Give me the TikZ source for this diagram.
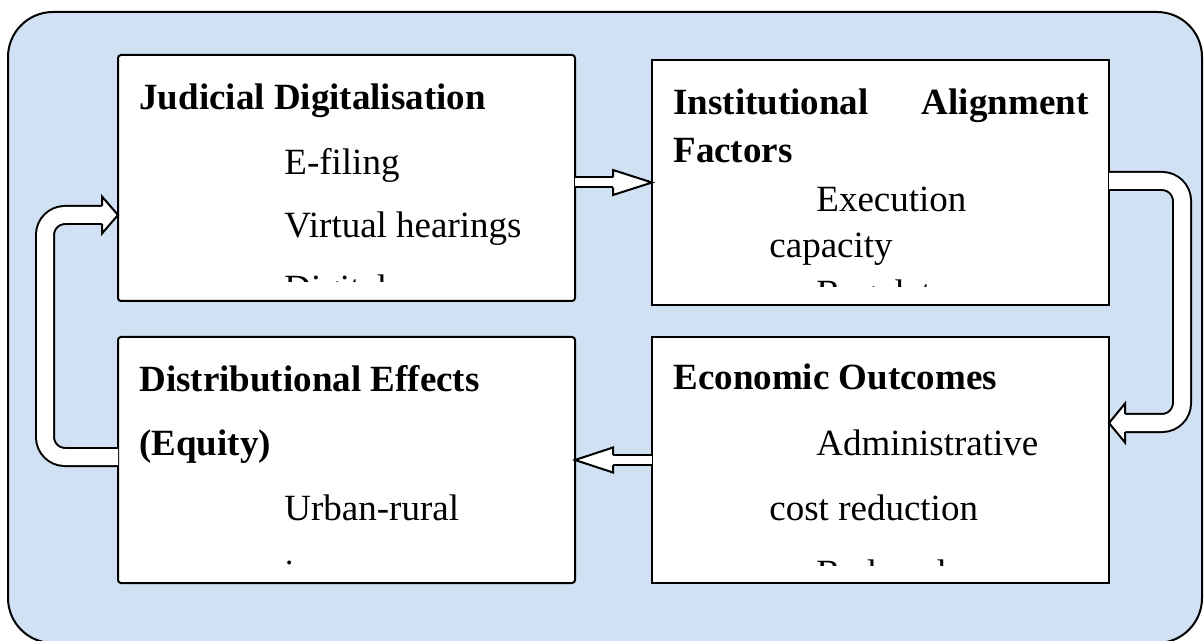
\documentclass[tikz,border=0pt]{standalone}
\usepackage{fontspec}
\setmainfont{Liberation Serif}
\usetikzlibrary{calc}
\definecolor{panelblue}{RGB}{207,225,242}
\begin{document}
\begin{tikzpicture}[x=0.5pt,y=-0.5pt,
  stage/.style={draw=black, line width=1pt, fill=white, inner sep=0pt, outer sep=0pt,
    anchor=north west, minimum width=228.5pt, minimum height=123pt},
  body/.style={anchor=base west, inner sep=0pt, font=\fontsize{18.5}{22}\selectfont},
  title/.style={anchor=base west, inner sep=0pt, font=\fontsize{18.5}{22}\selectfont\bfseries},
  band/.style={draw=black, line width=1pt, double=white},
  tip/.style={fill=white, draw=black, line width=1pt, line join=miter}]
\clip (0,0) rectangle (1204,641);
\fill[white] (0,0) rectangle (1204,641);
% outer panel
\draw[fill=panelblue, line width=1pt, rounded corners=22.5pt] (8,12) rectangle (1202,643);

% stage boxes
\node[stage, rounded corners=1.5pt] (dig) at (118,55) {};
\node[stage, minimum height=122.5pt] (inst) at (652,60) {};
\node[stage, rounded corners=1.5pt] (dist) at (118,337) {};
\node[stage] (econ) at (652,337) {};

% arrow: digitalisation -> institutional factors
\coordinate (a1tip) at (inst.west);
\coordinate (a1start) at (dig.east |- inst.west);
\coordinate (a1back) at ($(a1tip)+(-39,0)$);
\draw[band, double distance=4pt] (a1start) -- (a1back);
\filldraw[tip] ($(a1back)+(0,-5)$) -- ($(a1back)+(0,-12.5)$) -- (a1tip)
  -- ($(a1back)+(0,12.5)$) -- ($(a1back)+(0,5)$);

% arrow: economic outcomes -> distributional effects
\coordinate (a2tip) at (dist.east |- econ.west);
\coordinate (a2start) at (econ.west);
\coordinate (a2back) at ($(a2tip)+(38,0)$);
\draw[band, double distance=4pt] (a2start) -- (a2back);
\filldraw[tip] ($(a2back)+(0,-5)$) -- ($(a2back)+(0,-12.5)$) -- (a2tip)
  -- ($(a2back)+(0,12.5)$) -- ($(a2back)+(0,5)$);

% U-turn arrow: institutional factors -> economic outcomes
\coordinate (a3start) at ($(inst.north east)+(0,121)$);
\coordinate (a3tip) at ($(econ.north east)+(0,86)$);
\coordinate (a3back) at ($(a3tip)+(16,0)$);
\draw[band, double distance=8pt, rounded corners=10pt] (a3start) -- ($(a3start)+(73,0)$)
  -- ($(a3tip)+(73,0)$) -- (a3back);
\filldraw[tip] ($(a3back)+(0,-9)$) -- ($(a3back)+(0,-19.5)$) -- (a3tip)
  -- ($(a3back)+(0,19.5)$) -- ($(a3back)+(0,9)$);

% U-turn arrow: distributional effects -> digitalisation
\coordinate (a4start) at ($(dist.north west)+(0,120)$);
\coordinate (a4tip) at ($(dig.north west)+(0,160)$);
\coordinate (a4back) at ($(a4tip)+(-16,0)$);
\draw[band, double distance=8pt, rounded corners=10pt] (a4start) -- ($(a4start)+(-73,0)$)
  -- ($(a4tip)+(-73,0)$) -- (a4back);
\filldraw[tip] ($(a4back)+(0,-9)$) -- ($(a4back)+(0,-18.5)$) -- (a4tip)
  -- ($(a4back)+(0,18.5)$) -- ($(a4back)+(0,9)$);

% texts of the stages, cut off above the lower border
\begin{scope}
\clip (dig.north west) rectangle ($(dig.south east)+(0,-19)$);
\node[title] (digT) at (139,110) {Judicial Digitalisation};
\node[body] at (284,175) {E-filing};
\node[body] at (284,238) {Virtual hearings};
\node[body] at (284,301) {Digital};
\end{scope}

\begin{scope}
\clip (inst.north west) rectangle ($(inst.south east)+(0,-18)$);
\node[title] (instT) at (673,115) {\makebox[207.5pt][s]{Institutional Alignment}};
\node[title] at (673,163) {Factors};
\node[body] at (816,212) {Execution};
\node[body] at (769,258) {capacity};
\node[body] at (816,306) {Regulatory};
\end{scope}

\begin{scope}
\clip (dist.north west) rectangle ($(dist.south east)+(0,-17)$);
\node[title] (distT) at (139,392) {Distributional Effects};
\node[title] at (139,455) {(Equity)};
\node[body] at (284,520) {Urban-rural};
\node[body] at (284,585) {income};
\end{scope}

\begin{scope}
\clip (econ.north west) rectangle ($(econ.south east)+(0,-18)$);
\node[title] (econT) at (673,390) {Economic Outcomes};
\node[body] at (816,455) {Administrative};
\node[body] at (769,520) {cost reduction};
\node[body] at (816,585) {Reduced};
\end{scope}
\end{tikzpicture}
\end{document}
